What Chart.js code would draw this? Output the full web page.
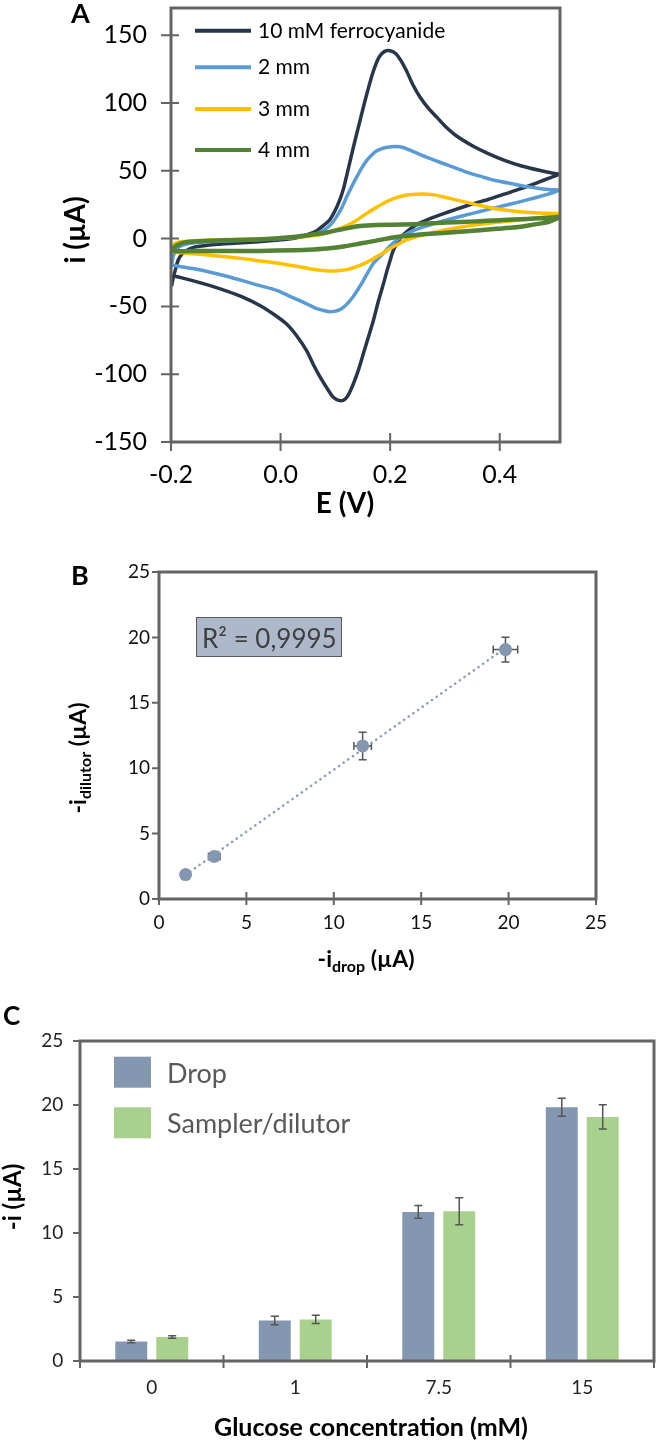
<!DOCTYPE html>
<html>
<head>
<meta charset="utf-8">
<script src="https://cdn.jsdelivr.net/npm/chart.js@4.4.1/dist/chart.umd.min.js"></script>
<style>
html, body { margin: 0; padding: 0; background: #fff; }
#wrap { position: relative; width: 657px; height: 1441px; }
canvas { position: absolute; left: 0; }
</style>
</head>
<body>
<div id="wrap">
  <canvas id="cv" width="657" height="530" style="top:0"></canvas>
  <canvas id="corr" width="657" height="440" style="top:540px"></canvas>
  <canvas id="bars" width="657" height="451" style="top:990px"></canvas>
</div>
<script>
// ---- panel A: cyclic voltammograms, E (V) / i (uA), forward scan then reverse scan
const ferroE = [-0.199, -0.196, -0.192, -0.187, -0.18, -0.17, -0.159, -0.13, -0.1, -0.07, -0.04, -0.01, 0.015, 0.035, 0.05, 0.065, 0.078, 0.09, 0.1, 0.108, 0.115, 0.121, 0.133, 0.145, 0.157, 0.169, 0.18, 0.19, 0.2, 0.21, 0.22, 0.23, 0.242, 0.255, 0.27, 0.285, 0.3, 0.32, 0.35, 0.38, 0.41, 0.44, 0.47, 0.5, 0.509,
  0.49, 0.47, 0.44, 0.41, 0.38, 0.35, 0.32, 0.295, 0.275, 0.26, 0.245, 0.23, 0.22, 0.212, 0.205, 0.2, 0.194, 0.188, 0.178, 0.169, 0.16, 0.151, 0.142, 0.133, 0.126, 0.12, 0.114, 0.108, 0.102, 0.096, 0.085, 0.072, 0.06, 0.048, 0.03, 0.011, -0.01, -0.037, -0.07, -0.098, -0.13, -0.159, -0.18, -0.197];
const ferroI = [-35, -29, -23, -16, -11.5, -8.5, -6.5, -4.8, -3.8, -3, -2.3, -1.3, -0.3, 1.2, 3, 5.5, 9.5, 14, 21, 28.5, 37, 47, 67.5, 87, 106, 123, 134, 138, 138.5, 136.5, 131, 123.5, 113, 104, 96, 89.5, 83, 76, 68.5, 62.5, 57.5, 53.5, 50.5, 48, 47.5,
  44.5, 41.5, 37, 33, 29, 25.5, 21.5, 18, 15, 12.5, 9.5, 5, 1, -4, -9.5, -16, -24, -33, -47, -61, -73, -85, -97, -107, -113.5, -117.5, -119.3, -119.5, -118.7, -117, -110.5, -102, -93, -83, -72, -63, -56.5, -49.5, -43, -38.8, -34.5, -31.2, -29, -27.3];

const mm2E = [-0.199, -0.196, -0.19, -0.18, -0.165, -0.14, -0.1, -0.05, 0, 0.03, 0.05, 0.066, 0.08, 0.092, 0.102, 0.112, 0.121, 0.13, 0.139, 0.148, 0.157, 0.166, 0.175, 0.185, 0.195, 0.21, 0.225, 0.24, 0.266, 0.303, 0.339, 0.364, 0.39, 0.424, 0.45, 0.475, 0.495, 0.509,
  0.49, 0.473, 0.45, 0.424, 0.394, 0.364, 0.333, 0.303, 0.28, 0.26, 0.24, 0.222, 0.208, 0.194, 0.181, 0.169, 0.16, 0.151, 0.142, 0.133, 0.124, 0.115, 0.106, 0.098, 0.09, 0.08, 0.066, 0.05, 0.036, 0.015, -0.007, -0.04, -0.068, -0.1, -0.128, -0.16, -0.198];
const mm2I = [-19.7, -13, -8, -5, -3.5, -2.5, -1.8, -1, 0, 1, 2.2, 3.7, 6.5, 10.5, 16, 23, 31, 38.5, 45.5, 52, 57.5, 61.5, 64.5, 66.3, 67.3, 67.8, 67, 64.5, 60, 54.5, 49, 46, 43, 40.3, 38.3, 36.8, 36, 35.7,
  33, 31, 28.5, 25.8, 23, 20, 16.8, 13.8, 11, 8.5, 5.5, 1.5, -2.5, -8, -13.5, -18.5, -24.5, -31, -37, -42.5, -47, -50.5, -52.8, -53.7, -54, -53.2, -51.7, -48.6, -46, -42.2, -38.2, -34.5, -31.2, -27.6, -24.8, -22.1, -19.7];

const mm3E = [-0.199, -0.195, -0.185, -0.159, -0.098, -0.037, 0.023, 0.066, 0.084, 0.102, 0.121, 0.139, 0.157, 0.175, 0.194, 0.21, 0.224, 0.24, 0.26, 0.28, 0.3, 0.32, 0.34, 0.364, 0.388, 0.41, 0.437, 0.473, 0.509,
  0.48, 0.455, 0.424, 0.394, 0.36, 0.333, 0.3, 0.273, 0.254, 0.23, 0.215, 0.2, 0.188, 0.175, 0.16, 0.145, 0.133, 0.121, 0.105, 0.09, 0.072, 0.054, 0.02, -0.007, -0.04, -0.068, -0.1, -0.128, -0.165, -0.198];
const mm3I = [-9.8, -4.5, -2.5, -1.7, -0.7, -0.3, 0.7, 2.5, 4, 6.5, 9.5, 13.5, 18.5, 23, 27.3, 30, 31.6, 32.5, 32.8, 32.2, 30.5, 28.5, 26.7, 24.4, 22.4, 21, 19.8, 18.8, 18.3,
  15.8, 14.5, 13.2, 12, 10.3, 8.7, 6.3, 3.8, 2, -1, -4, -7.4, -10.5, -13.5, -17, -19.7, -21.5, -22.9, -23.7, -23.9, -23.3, -22.2, -19.8, -18, -16.3, -14.8, -13.4, -12.3, -11, -9.8];

const mm4E = [-0.199, -0.195, -0.189, -0.18, -0.171, -0.13, -0.098, -0.037, 0.023, 0.05, 0.084, 0.12, 0.145, 0.175, 0.206, 0.242, 0.27, 0.303, 0.33, 0.364, 0.39, 0.424, 0.45, 0.473, 0.495, 0.509,
  0.5, 0.49, 0.473, 0.45, 0.424, 0.394, 0.364, 0.327, 0.303, 0.266, 0.242, 0.206, 0.175, 0.145, 0.115, 0.084, 0.05, 0.023, -0.037, -0.098, -0.159, -0.198];
const mm4I = [-9.4, -7, -4.9, -3.3, -2.5, -1.7, -1.2, -0.5, 1.2, 2.5, 4.5, 7.5, 9.2, 10, 10.2, 10.6, 11.2, 11.8, 12.2, 12.8, 13.4, 14, 14.5, 15, 15.5, 16,
  14, 12.3, 11, 9.5, 8.1, 7.2, 6.2, 5, 4.3, 3.4, 2.5, 0.8, -1.5, -3.7, -5.8, -7.4, -8.3, -8.6, -9.1, -9.1, -9.2, -9.4];

const cvLabels = ['10 mM ferrocyanide', '2 mm', '3 mm', '4 mm'];

// ---- panels B and C: peak currents (uA) per glucose concentration
const glucose = ['0', '1', '7.5', '15'];
const iDrop = [1.52, 3.16, 11.65, 19.82];
const iDropErr = [0.1, 0.33, 0.5, 0.7];
const iDilutor = [1.87, 3.25, 11.7, 19.07];
const iDilutorErr = [0.1, 0.32, 1.05, 0.95];

const FONT = 'Lato, "Open Sans", sans-serif';
const frameGray = '#646464';
const errGray = '#555555';
const cvColors = ['#28364a', '#5b9bd5', '#ffc000', '#548235'];
const dropColor = '#8497b0';
const dilutorColor = '#a9d18e';

Chart.defaults.font.family = FONT;
Chart.defaults.animation = false;
Chart.defaults.plugins.legend.display = false;
Chart.defaults.plugins.tooltip.enabled = false;

function zip(xs, ys) {
  return xs.map((x, k) => ({ x: x, y: ys[k] }));
}

// frame around plot area + tick marks (in = into the plot, out = outside)
function framePlugin(t) {
  return {
    id: 'frame',
    afterDatasetsDraw(chart) {
      const { ctx, chartArea: a, scales } = chart;
      const x = scales.x, y = scales.y;
      ctx.save();
      ctx.strokeStyle = frameGray;
      ctx.lineWidth = 2;
      ctx.beginPath();
      y.ticks.forEach(tk => {
        const py = y.getPixelForValue(tk.value);
        ctx.moveTo(a.left - t.yOut, py);
        ctx.lineTo(a.left + t.yIn, py);
      });
      let xs;
      if (x.type === 'category') {
        xs = [];
        for (let k = 0; k <= x.ticks.length; k++) xs.push(x.getPixelForValue(k - 0.5));
      } else {
        xs = x.ticks.map(tk => x.getPixelForValue(tk.value));
      }
      xs.forEach(px => {
        ctx.moveTo(px, a.bottom - t.xIn);
        ctx.lineTo(px, a.bottom + t.xOut);
      });
      ctx.stroke();
      ctx.lineWidth = 3;
      ctx.strokeRect(a.left, a.top, a.right - a.left, a.bottom - a.top);
      ctx.restore();
    }
  };
}

function textPlugin(draw) {
  return {
    id: 'texts',
    afterDraw(chart) {
      const ctx = chart.ctx;
      ctx.save();
      ctx.fillStyle = '#000';
      ctx.textBaseline = 'alphabetic';
      draw(ctx, chart);
      ctx.restore();
    }
  };
}

// text made of pieces (used for subscripts)
function drawPieces(ctx, parts, x, y) {
  let total = 0;
  parts.forEach(p => { ctx.font = p.font; p.w = ctx.measureText(p.t).width; total += p.w; });
  let cx = x - total / 2;
  ctx.textAlign = 'left';
  parts.forEach(p => { ctx.font = p.font; ctx.fillText(p.t, cx, y + (p.dy || 0)); cx += p.w; });
}

function axis(size, color, pad) {
  return {
    grid: { display: false, drawTicks: false },
    border: { display: false },
    ticks: { font: { size: size }, color: color, padding: pad }
  };
}

function fitX(s) { s.height = 50; s.paddingLeft = 0; s.paddingRight = 0; }
function fitY(w) {
  return function (s) { s.width = w; s.paddingTop = 0; s.paddingBottom = 0; };
}

function build() {
  // ---------------- A ----------------
  const cvSets = [[ferroE, ferroI], [mm2E, mm2I], [mm3E, mm3I], [mm4E, mm4I]].map((s, k) => ({
    label: cvLabels[k],
    data: zip(s[0], s[1]),
    showLine: true,
    borderColor: cvColors[k],
    borderWidth: k === 3 ? 4.5 : 3.5,
    pointRadius: 0,
    tension: 0.25,
    order: 4 - k
  }));
  const ax = axis(25, '#000', 18);
  const ay = axis(25, '#000', 24);
  new Chart(document.getElementById('cv'), {
    type: 'scatter',
    data: { datasets: cvSets },
    options: {
      responsive: false,
      devicePixelRatio: 1,
      layout: { padding: { left: 0, right: 97, top: 8, bottom: 38 } },
      scales: {
        x: Object.assign(ax, {
          type: 'linear', min: -0.2, max: 0.51,
          ticks: Object.assign(ax.ticks, { stepSize: 0.2, includeBounds: false, callback: v => v.toFixed(1) }),
          afterFit: fitX
        }),
        y: Object.assign(ay, {
          min: -150, max: 170,
          ticks: Object.assign(ay.ticks, { stepSize: 50, includeBounds: false }),
          afterFit: fitY(171)
        })
      }
    },
    plugins: [framePlugin({ yOut: 10, yIn: 8, xOut: 9, xIn: 9 }), textPlugin((ctx, chart) => {
      const a = chart.chartArea;
      ctx.font = 'bold 27px ' + FONT;
      ctx.textAlign = 'left';
      ctx.fillText('A', 71, 23);
      ctx.font = 'bold 28px ' + FONT;
      ctx.textAlign = 'center';
      ctx.fillText('E (V)', 345, 513);
      ctx.save();
      ctx.translate(85, 230);
      ctx.rotate(-Math.PI / 2);
      ctx.fillText('i (\u00b5A)', 0, 0);
      ctx.restore();
      // legend
      ctx.font = '21px ' + FONT;
      ctx.textAlign = 'left';
      const rows = [30.7, 67.3, 109, 150];
      chart.data.datasets.forEach((ds, k) => {
        ctx.strokeStyle = ds.borderColor;
        ctx.lineWidth = 4;
        ctx.beginPath();
        ctx.moveTo(a.left + 24, rows[k]);
        ctx.lineTo(a.left + 80, rows[k]);
        ctx.stroke();
        ctx.fillStyle = '#000';
        ctx.fillText(ds.label, a.left + 87, rows[k] + 7);
      });
    })]
  });

  // ---------------- B ----------------
  const n = iDrop.length;
  const mx = iDrop.reduce((s, v) => s + v, 0) / n;
  const my = iDilutor.reduce((s, v) => s + v, 0) / n;
  let sxy = 0, sxx = 0;
  iDrop.forEach((v, k) => { sxy += (v - mx) * (iDilutor[k] - my); sxx += (v - mx) * (v - mx); });
  const slope = sxy / sxx, icpt = my - slope * mx;
  const xLo = Math.min(...iDrop), xHi = Math.max(...iDrop);
  const bx = axis(19, '#111', 12.6);
  const by = axis(19, '#111', 9);
  new Chart(document.getElementById('corr'), {
    type: 'scatter',
    data: {
      datasets: [
        { label: 'points', data: zip(iDrop, iDilutor), pointRadius: 6.5, pointBackgroundColor: dropColor, pointBorderWidth: 0, order: 1 },
        { label: 'trend', data: [{ x: xLo, y: icpt + slope * xLo }, { x: xHi, y: icpt + slope * xHi }],
          showLine: true, pointRadius: 0, borderColor: '#8c9fba', borderWidth: 2.6, borderDash: [0.1, 5.6], borderCapStyle: 'round', order: 2 }
      ]
    },
    options: {
      responsive: false,
      devicePixelRatio: 1,
      layout: { padding: { left: 0, right: 61, top: 32, bottom: 31 } },
      scales: {
        x: Object.assign(bx, {
          type: 'linear', min: 0, max: 25,
          ticks: Object.assign(bx.ticks, { stepSize: 5 }),
          afterFit: fitX
        }),
        y: Object.assign(by, {
          min: 0, max: 25,
          ticks: Object.assign(by.ticks, { stepSize: 5 }),
          afterFit: fitY(159)
        })
      }
    },
    plugins: [{
      id: 'errB',
      beforeDatasetsDraw(chart) {
        const { ctx, scales: { x, y } } = chart;
        ctx.save();
        ctx.strokeStyle = errGray;
        ctx.lineWidth = 1.5;
        ctx.beginPath();
        iDrop.forEach((v, k) => {
          const px = x.getPixelForValue(v), py = y.getPixelForValue(iDilutor[k]);
          const y1 = y.getPixelForValue(iDilutor[k] + iDilutorErr[k]), y2 = y.getPixelForValue(iDilutor[k] - iDilutorErr[k]);
          const x1 = x.getPixelForValue(v - iDropErr[k]), x2 = x.getPixelForValue(v + iDropErr[k]);
          ctx.moveTo(px, y1); ctx.lineTo(px, y2);
          ctx.moveTo(px - 4, y1); ctx.lineTo(px + 4, y1);
          ctx.moveTo(px - 4, y2); ctx.lineTo(px + 4, y2);
          ctx.moveTo(x1, py); ctx.lineTo(x2, py);
          ctx.moveTo(x1, py - 4); ctx.lineTo(x1, py + 4);
          ctx.moveTo(x2, py - 4); ctx.lineTo(x2, py + 4);
        });
        ctx.stroke();
        ctx.restore();
      }
    }, framePlugin({ yOut: 7, yIn: 0, xOut: 6, xIn: 7 }), textPlugin((ctx, chart) => {
      const a = chart.chartArea;
      ctx.font = 'bold 27px ' + FONT;
      ctx.textAlign = 'left';
      ctx.fillText('B', 71, 45);
      // R^2 box
      const bl = a.left + 37, bt = a.top + 45;
      ctx.fillStyle = '#adb9ca';
      ctx.fillRect(bl, bt, 146, 40);
      ctx.strokeStyle = '#5a5a5a';
      ctx.lineWidth = 1;
      ctx.strokeRect(bl + 0.5, bt + 0.5, 145, 39);
      ctx.fillStyle = '#404040';
      ctx.font = '26px ' + FONT;
      ctx.fillText('R\u00b2 = 0,9995', bl + 6, bt + 31);
      ctx.fillStyle = '#000';
      const big = 'bold 23px ' + FONT, small = 'bold 16px ' + FONT;
      drawPieces(ctx, [{ t: '-i', font: big }, { t: 'drop', font: small, dy: 5 }, { t: ' (\u00b5A)', font: big }], 366, 427);
      ctx.save();
      ctx.translate(86, 218);
      ctx.rotate(-Math.PI / 2);
      drawPieces(ctx, [{ t: '-i', font: big }, { t: 'dilutor', font: small, dy: 5 }, { t: ' (\u00b5A)', font: big }], 0, 0);
      ctx.restore();
    })]
  });

  // ---------------- C ----------------
  const cx = axis(19, '#222', 15.6);
  const cy = axis(19, '#222', 16.7);
  const errs = [iDropErr, iDilutorErr];
  new Chart(document.getElementById('bars'), {
    type: 'bar',
    data: {
      labels: glucose,
      datasets: [
        { label: 'Drop', data: iDrop, backgroundColor: dropColor, categoryPercentage: 0.571, barPercentage: 0.78 },
        { label: 'Sampler/dilutor', data: iDilutor, backgroundColor: dilutorColor, categoryPercentage: 0.571, barPercentage: 0.78 }
      ]
    },
    options: {
      responsive: false,
      devicePixelRatio: 1,
      layout: { padding: { left: 0, right: 3, top: 51, bottom: 30 } },
      scales: {
        x: Object.assign(cx, { afterFit: fitX }),
        y: Object.assign(cy, {
          min: 0, max: 25,
          ticks: Object.assign(cy.ticks, { stepSize: 5 }),
          afterFit: fitY(80)
        })
      }
    },
    plugins: [{
      id: 'errC',
      afterDatasetsDraw(chart) {
        const { ctx, scales: { y } } = chart;
        ctx.save();
        ctx.strokeStyle = errGray;
        ctx.lineWidth = 1.5;
        ctx.beginPath();
        chart.data.datasets.forEach((ds, d) => {
          chart.getDatasetMeta(d).data.forEach((bar, k) => {
            const y1 = y.getPixelForValue(ds.data[k] + errs[d][k]);
            const y2 = y.getPixelForValue(ds.data[k] - errs[d][k]);
            ctx.moveTo(bar.x, y1); ctx.lineTo(bar.x, y2);
            ctx.moveTo(bar.x - 4, y1); ctx.lineTo(bar.x + 4, y1);
            ctx.moveTo(bar.x - 4, y2); ctx.lineTo(bar.x + 4, y2);
          });
        });
        ctx.stroke();
        ctx.restore();
      }
    }, framePlugin({ yOut: 7, yIn: 0, xOut: 7, xIn: 6 }), textPlugin((ctx, chart) => {
      const a = chart.chartArea;
      ctx.font = 'bold 26px ' + FONT;
      ctx.textAlign = 'left';
      ctx.fillText('C', 3, 35);
      ctx.font = 'bold 25px ' + FONT;
      ctx.textAlign = 'center';
      ctx.fillText('Glucose concentration (mM)', 371, 446);
      ctx.save();
      ctx.translate(21, 207);
      ctx.rotate(-Math.PI / 2);
      ctx.font = 'bold 24px ' + FONT;
      ctx.fillText('-i (\u00b5A)', 0, 0);
      ctx.restore();
      // legend
      const rows = [66.7, 117.3];
      ctx.font = '27px ' + FONT;
      ctx.textAlign = 'left';
      chart.data.datasets.forEach((ds, k) => {
        ctx.fillStyle = ds.backgroundColor;
        ctx.fillRect(a.left + 34, rows[k], 37, 31);
        ctx.fillStyle = '#595959';
        ctx.fillText(ds.label, a.left + 87, rows[k] + 26);
      });
    })]
  });
}

Promise.all([
  document.fonts.load('20px Lato'),
  document.fonts.load('bold 20px Lato')
]).then(build, build);
</script>
</body>
</html>
